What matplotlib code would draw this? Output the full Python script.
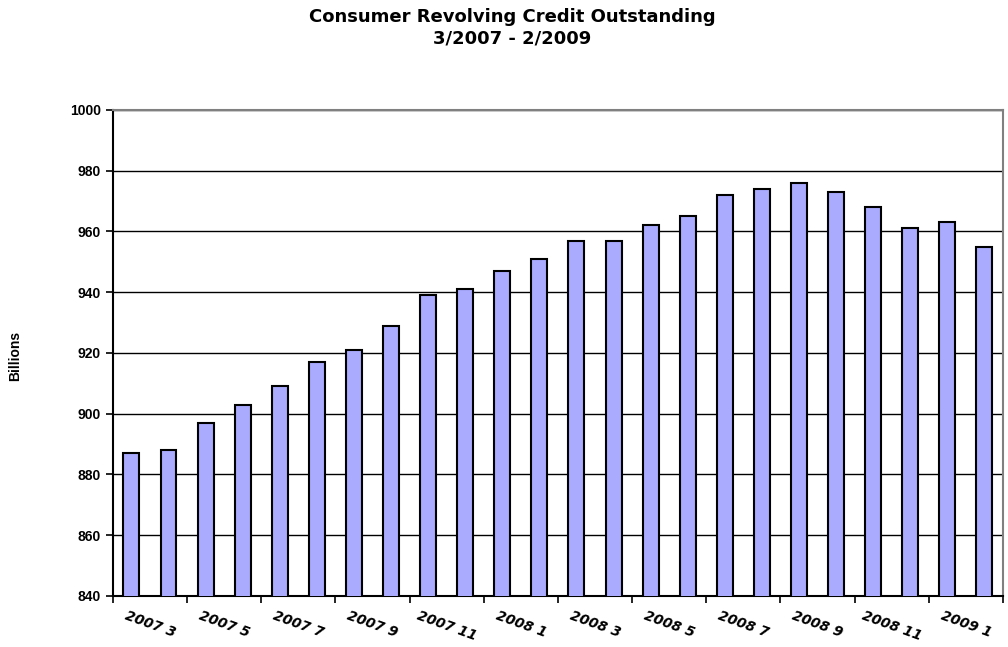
import matplotlib.pyplot as plt
import numpy as np

months = ["2007 3", "2007 4", "2007 5", "2007 6", "2007 7", "2007 8", "2007 9", "2007 10",
          "2007 11", "2007 12", "2008 1", "2008 2", "2008 3", "2008 4", "2008 5", "2008 6",
          "2008 7", "2008 8", "2008 9", "2008 10", "2008 11", "2008 12", "2009 1", "2009 2"]
credit = [887, 888, 897, 903, 909, 917, 921, 929, 939, 941, 947, 951,
          957, 957, 962, 965, 972, 974, 976, 973, 968, 961, 963, 955]

plt.rcParams['font.family'] = ['Liberation Sans', 'DejaVu Sans']
plt.rcParams['font.weight'] = 'bold'

fig = plt.figure(figsize=(10.08, 6.47), dpi=100)
ax = fig.add_axes([0.112, 0.079, 0.883, 0.751])

x = np.arange(len(months))
ax.bar(x, credit, width=0.43, color='#AAAAFF', edgecolor='black', linewidth=1.5, zorder=3)

ax.set_ylim(840, 1000)
ax.set_xlim(-0.5, len(months) - 0.5)
ax.set_yticks(range(840, 1001, 20))
ax.tick_params(axis='y', labelsize=10, direction='out', length=5, width=1.2)
for lbl in ax.get_yticklabels():
    lbl.set_fontweight('bold')
ax.yaxis.grid(True, color='black', linewidth=1, zorder=0)

# major ticks on the boundaries, labels every second month
ax.set_xticks(np.arange(-0.5, len(months), 2))
ax.set_xticklabels([])
ax.tick_params(axis='x', which='major', direction='out', length=5, width=1.2)
ax.set_xticks(x[::2] + 0.5, minor=True)
ax.set_xticklabels(months[::2], minor=True, rotation=-20, ha='center', fontsize=10,
                   fontweight='bold', family='DejaVu Sans', style='italic')
ax.tick_params(axis='x', which='minor', length=0, pad=9)

ax.spines['left'].set_linewidth(1.5)
ax.spines['bottom'].set_linewidth(1.5)
ax.spines['top'].set_color('#808080')
ax.spines['right'].set_color('#808080')
ax.spines['top'].set_linewidth(1.5)
ax.spines['right'].set_linewidth(1.5)

fig.text(0.008, 0.45, "Billions", rotation=90, va='center', ha='left', fontsize=10, fontweight='bold')
fig.text(0.508, 0.988, "Consumer Revolving Credit Outstanding\n3/2007 - 2/2009",
         ha='center', va='top', fontsize=13, fontweight='bold', family='DejaVu Sans',
         linespacing=1.25)

plt.savefig("out.png", dpi=100)
